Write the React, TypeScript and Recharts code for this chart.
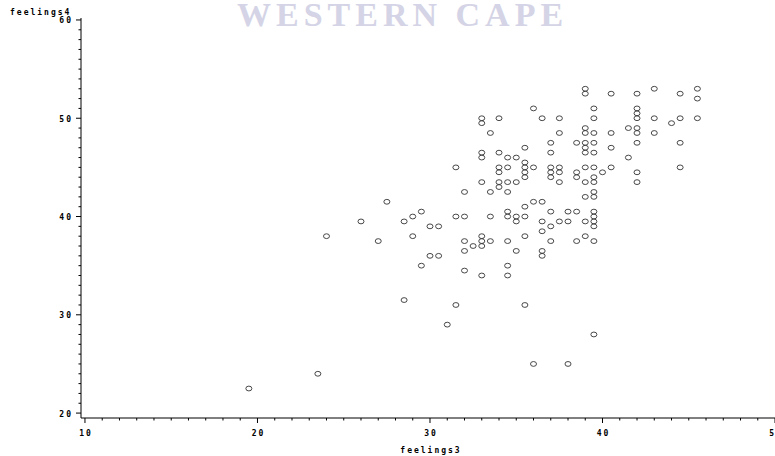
import React from 'react';
import { ScatterChart, Scatter, XAxis, YAxis } from 'recharts';

const feelings3: number[] = [
  19.5, 23.5, 24, 26, 27, 27.5, 28.5, 28.5, 29, 29, 29.5, 29.5, 30, 30, 30.5, 30.5, 31,
  31.5, 31.5, 31.5, 32, 32, 32, 32, 32, 32.5,
  33, 33, 33, 33, 33, 33, 33, 33, 33,
  33.5, 33.5, 33.5, 33.5,
  34, 34, 34, 34, 34, 34,
  34.5, 34.5, 34.5, 34.5, 34.5, 34.5, 34.5, 34.5, 34.5,
  35, 35, 35, 35, 35,
  35.5, 35.5, 35.5, 35.5, 35.5, 35.5, 35.5, 35.5, 35.5,
  36, 36, 36, 36,
  36.5, 36.5, 36.5, 36.5, 36.5, 36.5,
  37, 37, 37, 37, 37, 37, 37, 37,
  37.5, 37.5, 37.5, 37.5, 37.5, 37.5,
  38, 38, 38,
  38.5, 38.5, 38.5, 38.5, 38.5,
  39, 39, 39, 39, 39, 39, 39, 39, 39, 39, 39, 39,
  39.5, 39.5, 39.5, 39.5, 39.5, 39.5, 39.5, 39.5, 39.5, 39.5, 39.5, 39.5, 39.5, 39.5, 39.5, 39.5,
  40,
  40.5, 40.5, 40.5, 40.5,
  41.5, 41.5,
  42, 42, 42, 42, 42, 42, 42, 42, 42,
  43, 43, 43,
  44,
  44.5, 44.5, 44.5, 44.5,
  45.5, 45.5, 45.5,
];

const feelings4: number[] = [
  22.5, 24, 38, 39.5, 37.5, 41.5, 39.5, 31.5, 40, 38, 40.5, 35, 39, 36, 39, 36, 29,
  45, 40, 31, 42.5, 40, 37.5, 36.5, 34.5, 37,
  50, 49.5, 46.5, 46, 43.5, 38, 37.5, 37, 34,
  48.5, 42.5, 40, 37.5,
  50, 46.5, 45, 44.5, 43.5, 43,
  46, 45, 43.5, 42.5, 40.5, 40, 37.5, 35, 34,
  46, 43.5, 40, 39.5, 36.5,
  47, 45.5, 45, 44.5, 44, 41, 40, 38, 31,
  51, 45, 41.5, 25,
  50, 41.5, 39.5, 38.5, 36.5, 36,
  47.5, 46.5, 45, 44.5, 44, 40.5, 39, 37.5,
  50, 48.5, 45, 44.5, 43.5, 39.5,
  40.5, 39.5, 25,
  47.5, 44.5, 44, 40.5, 37.5,
  53, 52.5, 49, 48.5, 47.5, 47, 46.5, 45, 43.5, 42, 39.5, 38,
  51, 50, 48.5, 47.5, 46.5, 45, 44, 43.5, 42.5, 42, 40.5, 40, 39.5, 39, 37.5, 28,
  44.5,
  52.5, 48.5, 47, 45,
  49, 46,
  52.5, 51, 50.5, 50, 49, 48.5, 47.5, 44.5, 43.5,
  53, 50, 48.5,
  49.5,
  52.5, 50, 47.5, 45,
  53, 52, 50,
];

const xTicks: number[] = [
  10, 11, 12, 13, 14, 15, 16, 17, 18, 19, 20, 21, 22, 23, 24, 25, 26, 27, 28, 29, 30,
  31, 32, 33, 34, 35, 36, 37, 38, 39, 40, 41, 42, 43, 44, 45, 46, 47, 48, 49, 50,
];
const yTicks: number[] = [
  20, 21, 22, 23, 24, 25, 26, 27, 28, 29, 30, 31, 32, 33, 34, 35, 36, 37, 38, 39, 40,
  41, 42, 43, 44, 45, 46, 47, 48, 49, 50, 51, 52, 53, 54, 55, 56, 57, 58, 59, 60,
];

const data = feelings3.map((x, i) => ({ x, y: feelings4[i] }));

const FONT = '"DejaVu Sans Mono", monospace';
const textStyle: React.CSSProperties = {
  fontFamily: FONT,
  fontSize: 8,
  fontWeight: 'bold',
  letterSpacing: 2,
};

const XTick = (props: any) => {
  const { x, y, payload } = props;
  const v = payload.value as number;
  const major = v % 10 === 0;
  return (
    <g>
      <line x1={x} x2={x} y1={y} y2={y + (major ? 5 : 2.5)} stroke="#000" strokeWidth={1} />
      {major && (
        <text x={x + 1} y={y + 18} textAnchor="middle" fill="#000" style={textStyle}>
          {v}
        </text>
      )}
    </g>
  );
};

const YTick = (props: any) => {
  const { x, y, payload } = props;
  const v = payload.value as number;
  const major = v % 10 === 0;
  return (
    <g>
      <line x1={x} x2={x - (major ? 5 : 2.5)} y1={y} y2={y} stroke="#000" strokeWidth={1} />
      {major && (
        <text x={x - 8} y={y + 3.5} textAnchor="end" fill="#000" style={textStyle}>
          {v}
        </text>
      )}
    </g>
  );
};

const Ring = (props: any) => {
  const { cx, cy } = props;
  return <ellipse cx={cx} cy={cy} rx={3} ry={2.4} fill="none" stroke="#333" strokeWidth={0.9} />;
};

export default function App() {
  return (
    <div style={{ position: 'absolute', left: 0, top: 0, width: 775, height: 456, overflow: 'hidden', background: '#fff' }}>
      <ScatterChart width={790} height={456} margin={{ top: 18, right: 6, bottom: 0, left: 0 }}>
        <XAxis
          xAxisId="b"
          dataKey="x"
          type="number"
          orientation="bottom"
          domain={[9.77, 50.52]}
          allowDataOverflow
          ticks={xTicks}
          interval={0}
          tickSize={0}
          tickMargin={0}
          tick={<XTick />}
          tickLine={false}
          axisLine={{ stroke: '#000', strokeWidth: 1 }}
          height={38}
        />
        <XAxis
          xAxisId="t"
          dataKey="x"
          type="number"
          orientation="top"
          domain={[9.77, 50.52]}
          allowDataOverflow
          tick={false}
          tickLine={false}
          axisLine={{ stroke: '#000', strokeWidth: 1 }}
          height={0}
        />
        <YAxis
          yAxisId="l"
          dataKey="y"
          type="number"
          domain={[19.5, 60.2]}
          allowDataOverflow
          ticks={yTicks}
          interval={0}
          tickSize={0}
          tickMargin={0}
          tick={<YTick />}
          tickLine={false}
          axisLine={{ stroke: '#000', strokeWidth: 1 }}
          width={81}
        />
        <Scatter
          xAxisId="b"
          yAxisId="l"
          data={data}
          shape={<Ring />}
          isAnimationActive={false}
        />
      </ScatterChart>
      <svg
        width={775}
        height={456}
        style={{ position: 'absolute', left: 0, top: 0, pointerEvents: 'none' }}
      >
        <text x={10} y={15} fill="#000" style={textStyle}>feelings4</text>
        <text x={431} y={453} textAnchor="middle" fill="#000" style={textStyle}>feelings3</text>
        <text
          x={237}
          y={26}
          fill="#d4d4e6"
          style={{ fontFamily: '"Liberation Serif", serif', fontSize: 34, fontWeight: 'bold', letterSpacing: 5 }}
        >
          WESTERN CAPE
        </text>
      </svg>
    </div>
  );
}
